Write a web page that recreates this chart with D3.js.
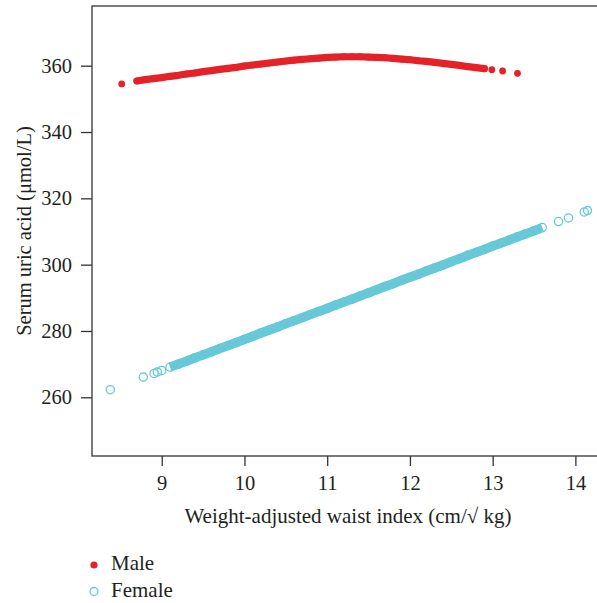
<!DOCTYPE html>
<html>
<head>
<meta charset="utf-8">
<script src="https://cdn.jsdelivr.net/npm/d3@7"></script>
<style>
    body { margin: 0; background: #fff; }
    svg { display: block; font-family: "Liberation Serif", "DejaVu Serif", serif; }
</style>
</head>
<body>
<div id="chart"></div>
<script>
// Male (fitted values, filled dots)
var maleX = [8.516, 8.70, 8.80, 8.90, 9.00, 9.10, 9.20, 9.30, 9.40, 9.50, 9.60, 9.70, 9.80, 9.90,
    10.00, 10.10, 10.20, 10.30, 10.40, 10.50, 10.60, 10.70, 10.80, 10.90, 11.00, 11.10, 11.20,
    11.30, 11.40, 11.50, 11.60, 11.70, 11.80, 11.90, 12.00, 12.10, 12.20, 12.30, 12.40, 12.50,
    12.60, 12.70, 12.80, 12.90, 12.99, 13.12, 13.30];
var maleY = [354.5, 355.4, 355.8, 356.1, 356.4, 356.8, 357.1, 357.5, 357.8, 358.2, 358.5, 358.9, 359.2, 359.5,
    359.9, 360.2, 360.5, 360.8, 361.1, 361.4, 361.7, 361.9, 362.1, 362.3, 362.5, 362.6, 362.7,
    362.7, 362.7, 362.6, 362.5, 362.4, 362.2, 362.0, 361.8, 361.5, 361.3, 361.0, 360.7, 360.4,
    360.1, 359.7, 359.4, 359.1, 358.8, 358.4, 357.7];

// Female (fitted values, open circles)
var femaleX = [8.378, 8.777, 8.907, 8.947, 9.00, 9.10, 9.20, 9.30, 9.40, 9.50, 9.60, 9.70, 9.80, 9.90,
    10.00, 10.10, 10.20, 10.30, 10.40, 10.50, 10.60, 10.70, 10.80, 10.90, 11.00, 11.10, 11.20,
    11.30, 11.40, 11.50, 11.60, 11.70, 11.80, 11.90, 12.00, 12.10, 12.20, 12.30, 12.40, 12.50,
    12.60, 12.70, 12.80, 12.90, 13.00, 13.10, 13.20, 13.30, 13.40, 13.50, 13.60, 13.796, 13.917,
    14.107, 14.147];
var femaleY = [262.3, 266.1, 267.2, 267.6, 268.1, 269.1, 270.0, 270.9, 271.9, 272.8, 273.7, 274.7, 275.6, 276.5,
    277.5, 278.4, 279.4, 280.3, 281.2, 282.2, 283.1, 284.0, 285.0, 285.9, 286.8, 287.8, 288.7,
    289.6, 290.6, 291.5, 292.5, 293.4, 294.3, 295.3, 296.2, 297.1, 298.1, 299.0, 299.9, 300.9,
    301.8, 302.8, 303.7, 304.6, 305.6, 306.5, 307.4, 308.4, 309.3, 310.2, 311.2, 313.0, 314.1,
    315.9, 316.3];

var xTicks = [9, 10, 11, 12, 13, 14];
var yTicks = [260, 280, 300, 320, 340, 360];
var seriesNames = ['Male', 'Female'];

var opts = {
    'maleColor': '#e52228',
    'femaleColor': '#67c9d8',
    'axisColor': '#333333',
    'textColor': '#231f20'
};

var W = 597, H = 603;
var svg = d3.select('#chart').append('svg').attr('width', W).attr('height', H);

var x = d3.scaleLinear().domain([8.157, 14.3]).range([92, 600.2]);
var y = d3.scaleLinear().domain([242.3, 378]).range([456, 6]);

var male = maleX.map(function (d, i) { return { x: d, y: maleY[i] }; });
var female = femaleX.map(function (d, i) { return { x: d, y: femaleY[i] }; });

// plot box (right edge runs off the page)
svg.append('rect')
    .attr('x', x.range()[0]).attr('y', y.range()[1])
    .attr('width', x.range()[1] - x.range()[0] + 2).attr('height', y.range()[0] - y.range()[1])
    .attr('fill', 'none').attr('stroke', opts.axisColor).attr('stroke-width', 1.3);

// axes
var xAxis = svg.append('g').attr('transform', 'translate(0,' + y.range()[0] + ')')
    .call(d3.axisBottom(x).tickValues(xTicks).tickFormat(d3.format('d'))
        .tickSize(10).tickSizeOuter(0).tickPadding(9));
var yAxis = svg.append('g').attr('transform', 'translate(' + x.range()[0] + ',0)')
    .call(d3.axisLeft(y).tickValues(yTicks).tickFormat(d3.format('d'))
        .tickSize(11).tickSizeOuter(0).tickPadding(9));

[xAxis, yAxis].forEach(function (g) {
    g.select('.domain').remove();
    g.selectAll('line').attr('stroke', opts.axisColor).attr('stroke-width', 1.3);
    g.selectAll('text').attr('fill', opts.textColor)
        .style('font-family', '"Liberation Serif", serif').style('font-size', '20.5px');
});

var line = d3.line().x(function (d) { return x(d.x); }).y(function (d) { return y(d.y); });

// female: the dense run reads as a solid band, rings drawn over it
svg.append('path')
    .datum(female.filter(function (d) { return d.x >= 9.1 && d.x <= 13.6; }))
    .attr('d', line)
    .attr('fill', 'none')
    .attr('stroke', opts.femaleColor)
    .attr('stroke-width', 9.4);

svg.append('g').selectAll('circle').data(female).join('circle')
    .attr('cx', function (d) { return x(d.x); })
    .attr('cy', function (d) { return y(d.y); })
    .attr('r', 4.1)
    .attr('fill', 'none')
    .attr('stroke', opts.femaleColor)
    .attr('stroke-width', 1.3);

// male
svg.append('path')
    .datum(male.filter(function (d) { return d.x >= 8.7 && d.x <= 12.9; }))
    .attr('d', line)
    .attr('fill', 'none')
    .attr('stroke', opts.maleColor)
    .attr('stroke-width', 7.2)
    .attr('stroke-linecap', 'round')
    .attr('stroke-linejoin', 'round');

svg.append('g').selectAll('circle').data(male).join('circle')
    .attr('cx', function (d) { return x(d.x); })
    .attr('cy', function (d) { return y(d.y); })
    .attr('r', 3.4)
    .attr('fill', opts.maleColor);

// axis titles
svg.append('text')
    .attr('x', 348).attr('y', 523)
    .attr('text-anchor', 'middle')
    .attr('fill', opts.textColor)
    .style('font-size', '21px')
    .text('Weight-adjusted waist index (cm/\u221A kg)');

svg.append('text')
    .attr('transform', 'translate(31,' + ((y.range()[0] + y.range()[1]) / 2) + ') rotate(-90)')
    .attr('text-anchor', 'middle')
    .attr('fill', opts.textColor)
    .style('font-size', '20.5px')
    .text('Serum uric acid (\u03BCmol/L)');

// legend
var legend = svg.append('g').attr('transform', 'translate(94,565)');
seriesNames.forEach(function (name, i) {
    var g = legend.append('g').attr('transform', 'translate(0,' + (i * 26.5) + ')');
    if (i === 0) {
        g.append('circle').attr('r', 3.6).attr('fill', opts.maleColor);
    } else {
        g.append('circle').attr('r', 4).attr('fill', 'none')
            .attr('stroke', opts.femaleColor).attr('stroke-width', 1.3);
    }
    g.append('text').attr('x', 17).attr('y', 5)
        .attr('fill', opts.textColor)
        .style('font-size', '21px')
        .text(name);
});
</script>
</body>
</html>
